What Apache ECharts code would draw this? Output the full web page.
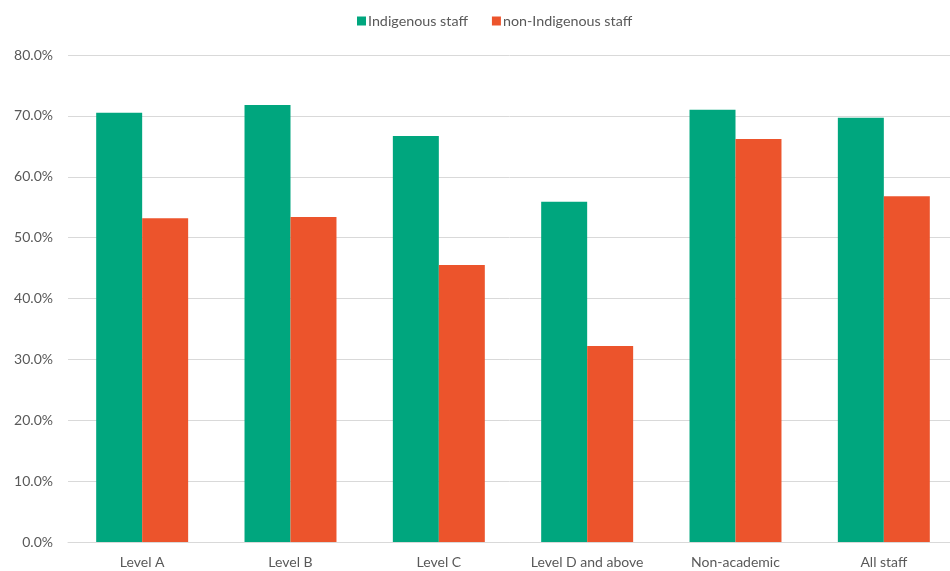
<!DOCTYPE html>
<html><head><meta charset="utf-8">
<script src="https://cdn.jsdelivr.net/npm/echarts@6/dist/echarts.min.js"></script>
<style>html,body{margin:0;padding:0;background:#fff}#c{width:950px;height:571px}</style>
</head><body><div id="c"></div>
<script>
const categories = ["Level A","Level B","Level C","Level D and above","Non-academic","All staff"];
const indigenous = [70.5, 71.8, 66.7, 55.9, 71.0, 69.7];
const nonIndigenous = [53.2, 53.4, 45.5, 32.2, 66.2, 56.8];
const seriesNames = ["Indigenous staff","non-Indigenous staff"];

const chart = echarts.init(document.getElementById('c'), null, {renderer:'canvas'});
const font = 'Lato, "Open Sans", sans-serif';
chart.setOption({
  animation:false,
  textStyle:{fontFamily:font},
  legend:{
    top:9, left:352, itemWidth:9, itemHeight:9, itemGap:24,
    icon:'rect',
    textStyle:{color:'#595959', fontSize:14.3, fontFamily:font, padding:[0,0,0,-3]},
    data:seriesNames
  },
  grid:{left:68, width:890, top:55, height:487, containLabel:false, outerBoundsMode:'none'},
  xAxis:{
    type:'category', data:categories,
    axisLine:{lineStyle:{color:'#d9d9d9', width:1}},
    axisTick:{show:false},
    axisLabel:{color:'#595959', fontSize:14, margin:13, fontFamily:font}
  },
  yAxis:{
    type:'value', min:0, max:80, interval:10,
    axisLine:{show:false}, axisTick:{show:false},
    splitLine:{lineStyle:{color:'#d9d9d9', width:1}},
    axisLabel:{color:'#595959', fontSize:14, margin:15, fontFamily:font,
      formatter:v=>v.toFixed(1)+'%'}
  },
  series:[
    {name:seriesNames[0], type:'bar', data:indigenous, itemStyle:{color:'#00A67E'},
     barGap:'0%', barCategoryGap:'38%'},
    {name:seriesNames[1], type:'bar', data:nonIndigenous, itemStyle:{color:'#EC542C'},
     barGap:'0%', barCategoryGap:'38%'}
  ]
});
</script></body></html>
